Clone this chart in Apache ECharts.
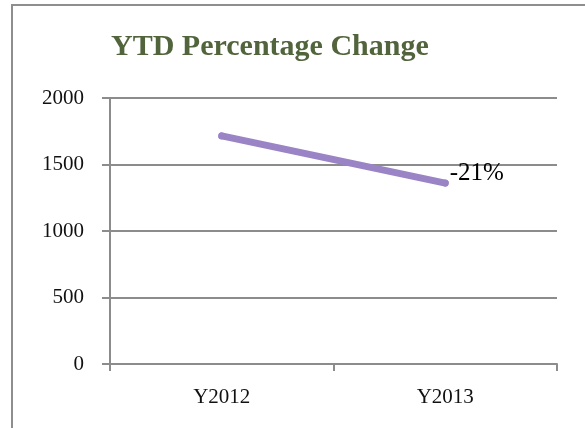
<!DOCTYPE html>
<html>
<head>
<meta charset="utf-8">
<script src="https://cdn.jsdelivr.net/npm/echarts@6/dist/echarts.min.js"></script>
<style>
  html, body { margin: 0; padding: 0; background: #fff; }
  #frame {
    position: absolute; left: 11px; top: 4px; width: 580px; height: 430px;
    border-left: 2px solid #8e8e8e; border-top: 2px solid #8e8e8e;
  }
  #chart { position: absolute; left: 0; top: 0; width: 585px; height: 428px; }
</style>
</head>
<body>
<div id="frame"></div>
<div id="chart"></div>
<script>
var categories = ['Y2012', 'Y2013']
var values = [1715, 1360]
var pointLabels = ['', '-21%']
var yTicks = [0, 500, 1000, 1500, 2000]

var chart = echarts.init(document.getElementById('chart'))
var serif = '"Liberation Serif", "DejaVu Serif", serif'
var gray = '#8c8c8c'
var purple = '#9a84c5'

var option = {
  animation: false,
  title: {
    text: 'YTD Percentage Change',
    left: 106,
    top: 27,
    textStyle: {
      fontFamily: serif,
      fontWeight: 'bold',
      fontSize: 30,
      color: '#52643c'
    }
  },
  grid: {
    left: 110,
    right: 28,
    top: 98,
    bottom: 64
  },
  xAxis: {
    type: 'category',
    data: categories,
    boundaryGap: true,
    axisLine: { lineStyle: { color: gray, width: 2 } },
    axisTick: { show: true, length: 7, lineStyle: { color: gray, width: 2 } },
    axisLabel: { margin: 23, fontFamily: serif, fontSize: 21, color: '#111' }
  },
  yAxis: {
    type: 'value',
    min: yTicks[0],
    max: yTicks[yTicks.length - 1],
    interval: 500,
    axisLine: { show: true, lineStyle: { color: gray, width: 2 } },
    axisTick: { show: true, length: 8, lineStyle: { color: gray, width: 2 } },
    splitLine: { lineStyle: { color: gray, width: 2 } },
    axisLabel: {
      margin: 26,
      fontFamily: serif,
      fontSize: 21,
      color: '#111',
      formatter: function (v) { return String(v) }
    }
  },
  series: [
    {
      type: 'line',
      symbol: 'circle',
      symbolSize: 7,
      showSymbol: true,
      itemStyle: { color: purple },
      lineStyle: { color: purple, width: 7, cap: 'round' },
      data: values.map(function (v, i) {
        return {
          value: v,
          label: {
            show: pointLabels[i] !== '',
            formatter: pointLabels[i],
            position: 'right',
            offset: [-4, -10],
            fontFamily: serif,
            fontSize: 25,
            color: '#000'
          }
        }
      })
    }
  ]
}
chart.setOption(option)
</script>
</body>
</html>
